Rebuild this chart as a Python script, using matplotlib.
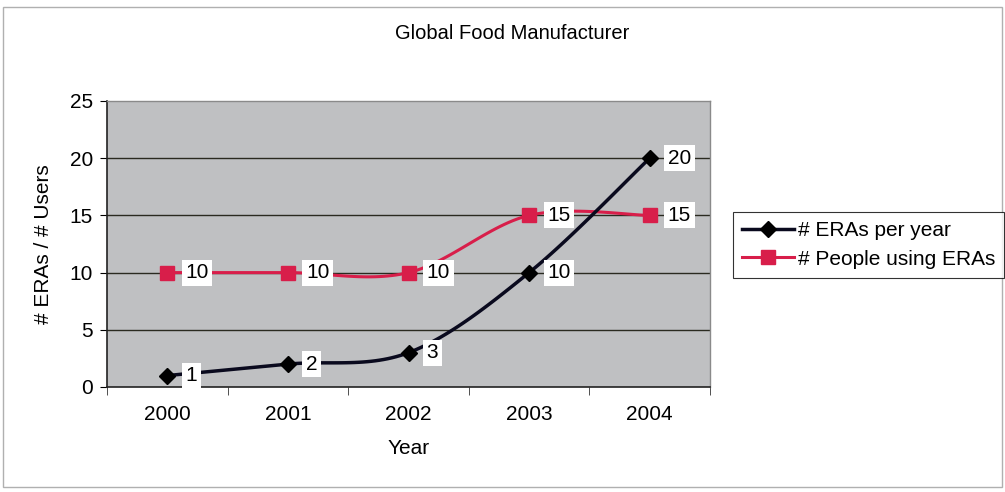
import numpy as np
import matplotlib.pyplot as plt

plt.rcParams['font.family'] = ['Liberation Sans', 'DejaVu Sans']

years = ['2000', '2001', '2002', '2003', '2004']
eras_per_year = [1, 2, 3, 10, 20]
people_using = [10, 10, 10, 15, 15]


def smooth(xs, ys, steps=30):
    # Catmull-Rom curve through the points, like a spreadsheet "smoothed line"
    xs = np.asarray(xs, float)
    ys = np.asarray(ys, float)
    px = np.concatenate([[xs[0]], xs, [xs[-1]]])
    py = np.concatenate([[ys[0]], ys, [ys[-1]]])
    out_x, out_y = [], []
    for i in range(1, len(px) - 2):
        t = np.linspace(0, 1, steps)
        for p, out in ((px, out_x), (py, out_y)):
            p0, p1, p2, p3 = p[i - 1], p[i], p[i + 1], p[i + 2]
            c1 = p1 + (p2 - p0) / 6
            c2 = p2 - (p3 - p1) / 6
            b = ((1 - t) ** 3 * p1 + 3 * (1 - t) ** 2 * t * c1
                 + 3 * (1 - t) * t ** 2 * c2 + t ** 3 * p2)
            out.extend(b)
    return np.array(out_x), np.array(out_y)


x = np.arange(len(years))

fig = plt.figure(figsize=(10.05, 4.92), dpi=100)
ax = fig.add_axes([107 / 1005, 1 - 387 / 492, 603 / 1005, 286 / 492])
ax.set_facecolor('#bfc0c2')

for v in range(5, 25, 5):
    ax.axhline(v, color='#2a2a20', lw=1.0, zorder=1)

sx, sy = smooth(x, eras_per_year)
ax.plot(sx, sy, color='#0a0a1e', lw=2.5, zorder=3, solid_capstyle='round')
ax.plot(x, eras_per_year, ls='none', marker='D', ms=8.5, color='black', zorder=4)

sx, sy = smooth(x, people_using)
ax.plot(sx, sy, color='#d81e4a', lw=2.2, zorder=2)
ax.plot(x, people_using, ls='none', marker='s', ms=10.5, color='#d81e4a', zorder=4)

box = dict(facecolor='white', edgecolor='none', pad=2.5)
for xi, v in zip(x, eras_per_year):
    ax.text(xi + 0.15, v, str(v), fontsize=15, va='center', ha='left', bbox=box, zorder=5)
for xi, v in zip(x, people_using):
    ax.text(xi + 0.15, v, str(v), fontsize=15, va='center', ha='left', bbox=box, zorder=5)

# legend proxies
h1, = ax.plot([], [], color='#0a0a1e', lw=2.5, marker='D', ms=8.5, mfc='black', mec='black')
h2, = ax.plot([], [], color='#d81e4a', lw=2.2, marker='s', ms=10.5)
leg = fig.legend([h1, h2], ['# ERAs per year', '# People using ERAs'],
                 loc='center left', bbox_to_anchor=(733 / 1005, 1 - 245 / 492),
                 fontsize=15, frameon=True, fancybox=False, handlelength=2.5,
                 handletextpad=0.15, borderpad=0.45, labelspacing=0.45,
                 borderaxespad=0)
leg.get_frame().set_edgecolor('black')
leg.get_frame().set_linewidth(0.8)

ax.set_xlim(-0.5, 4.5)
ax.set_ylim(0, 25)
ax.set_yticks(range(0, 26, 5))
ax.set_xticks(x)
ax.set_xticklabels(years)
ax.set_xticks(np.arange(-0.5, 5, 1), minor=True)
ax.tick_params(axis='x', which='major', length=0, pad=13, labelsize=15)
ax.tick_params(axis='x', which='minor', length=6, direction='out', color='#333333')
ax.tick_params(axis='y', length=5, direction='out', labelsize=15, pad=5)

for side in ('top', 'right'):
    ax.spines[side].set_color('#8a8a8a')
    ax.spines[side].set_linewidth(1.0)
for side in ('left', 'bottom'):
    ax.spines[side].set_color('#222222')
    ax.spines[side].set_linewidth(1.2)

ax.set_xlabel('Year', fontsize=15, labelpad=11)
ax.set_ylabel('# ERAs / # Users', fontsize=15, labelpad=12)
fig.text(512 / 1005, 1 - 33 / 492, 'Global Food Manufacturer', fontsize=14.5,
         ha='center', va='center')

# thin chart-area border
fig.patches.append(plt.Rectangle((0.003, 0.01), 0.994, 0.975, transform=fig.transFigure,
                                 fill=False, edgecolor='#b0b0b0', lw=1.0))

fig.savefig('out.png', dpi=100)
